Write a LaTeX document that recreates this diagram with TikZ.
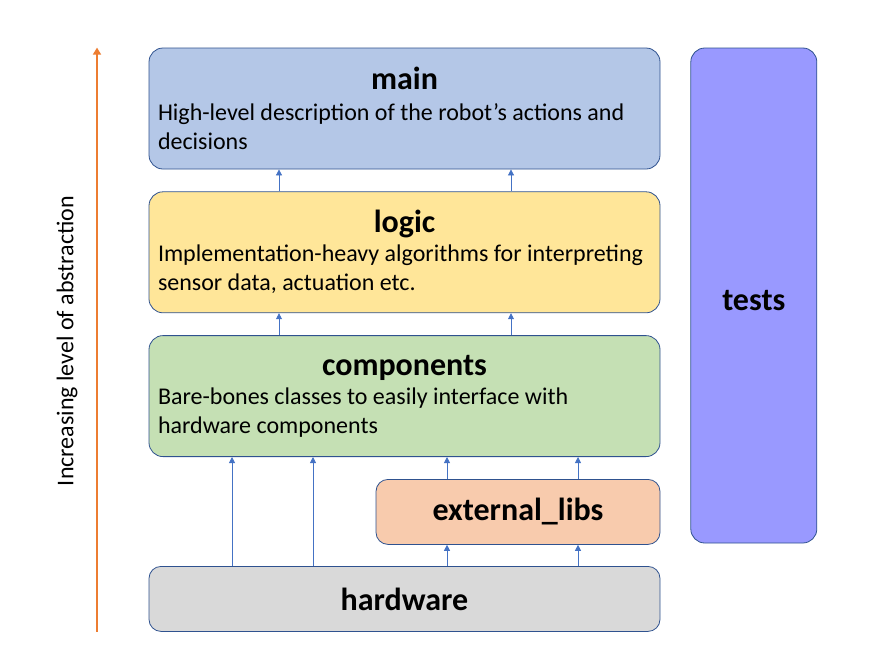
\documentclass[tikz,border=0pt]{standalone}
\usepackage{fontspec}
\setmainfont{Carlito}
\usetikzlibrary{positioning,arrows.meta}

\definecolor{edge}{HTML}{2F528F}
\definecolor{arrowblue}{HTML}{4472C4}
\definecolor{riseorange}{HTML}{ED7D31}
\definecolor{mainfill}{HTML}{B4C7E7}
\definecolor{logicfill}{HTML}{FFE699}
\definecolor{compfill}{HTML}{C5E0B4}
\definecolor{extfill}{HTML}{F8CBAD}
\definecolor{hwfill}{HTML}{D9D9D9}
\definecolor{testfill}{HTML}{9999FF}

% title line of a layer box, then gap before the description
\newcommand{\layerhead}[2]{{\centering\bfseries\fontsize{32}{38}\selectfont #1\par}\vspace{#2}%
    \raggedright\spaceskip=5.4pt\xspaceskip=5.4pt\relax}

\begin{document}
\begin{tikzpicture}[
            x=1pt, y=-1pt,
            node distance=22pt,
            layer/.style={draw=edge, line width=0.8pt, rounded corners=14pt,
                minimum width=511pt, minimum height=121pt, text width=493pt,
                inner xsep=9pt, inner ysep=0pt,
                font=\fontsize{24}{29}\selectfont},
            lib/.style={draw=edge, line width=0.8pt, rounded corners=12pt,
                minimum height=65pt, font=\bfseries\fontsize{32}{38}\selectfont},
            up/.style={draw=arrowblue, line width=0.8pt, -{Triangle[width=6pt,length=6pt]}},
            rise/.style={draw=riseorange, line width=1.6pt, -{Triangle[width=8pt,length=7pt]}}
        ]
            \useasboundingbox (0,0) rectangle (874,670);
            % layers
            \node (main) [layer, fill=mainfill] at (404.5,108.5)
                {\layerhead{main}{2pt}High-level description of the robot’s actions and\\decisions\par\vspace{-2pt}};
            \node (logic) [layer, fill=logicfill, below=of main]
                {\layerhead{logic}{0pt}Implementation-heavy algorithms for interpreting\\sensor data, actuation etc.\par\vspace{13pt}};
            \node (components) [layer, fill=compfill, below=of logic]
                {\layerhead{components}{0pt}Bare-bones classes to easily interface with\\hardware components\par\vspace{10pt}};
            \node (external_libs) [lib, fill=extfill, minimum width=284pt,
                below left=22pt and 0pt of components.south east] {external\_libs};
            \node (hardware) [lib, fill=hwfill, minimum width=511pt, below=109pt of components] {hardware};
            \node (tests) [lib, fill=testfill, rounded corners=14pt, minimum width=126pt, minimum height=495pt,
                text height=30pt, below right=0pt and 30pt of main.north east] {tests};
            % arrow columns
            \coordinate (mid1) at (279,0);
            \coordinate (mid2) at (511,0);
            \coordinate (left1) at (232,0);
            \coordinate (left2) at (313,0);
            \coordinate (ext1) at (447,0);
            \coordinate (ext2) at (578,0);
            \coordinate (axis) at (97,0);
            \foreach \c in {mid1,mid2} {
                \draw[up] (logic.north -| \c) -- (main.south -| \c);
                \draw[up] (components.north -| \c) -- (logic.south -| \c);
            }
            \foreach \c in {left1,left2}
                \draw[up] (hardware.north -| \c) -- (components.south -| \c);
            \foreach \c in {ext1,ext2} {
                \draw[up] (hardware.north -| \c) -- (external_libs.south -| \c);
                \draw[up] (external_libs.north -| \c) -- (components.south -| \c);
            }
            % abstraction axis
            \draw[rise] (hardware.south -| axis) -- (main.north -| axis);
            \node (abstraction) [rotate=90, font=\fontsize{24}{29}\selectfont] at (67,341)
                {Increasing level of abstraction};
        \end{tikzpicture}
\end{document}
